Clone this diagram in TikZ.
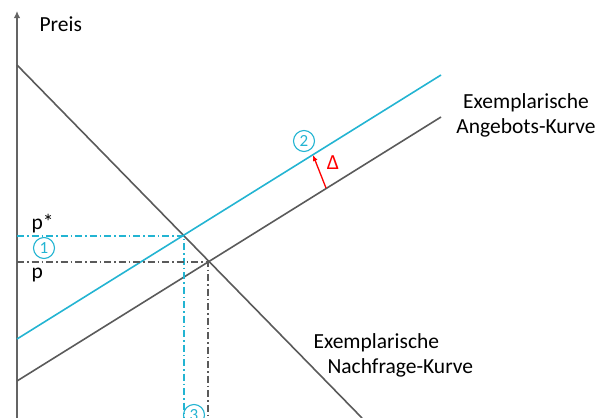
\documentclass[tikz,border=0pt]{standalone}
\usepackage{fontspec}
\setmainfont{Carlito}
\usetikzlibrary{arrows.meta}
\definecolor{cyanblue}{RGB}{35,180,210}
\definecolor{curvegray}{RGB}{90,90,90}
\definecolor{axisgray}{RGB}{100,100,100}

\begin{document}
\begin{tikzpicture}[x=1pt,y=-1pt,font=\fontsize{21.5}{25}\selectfont,
  curve/.style={line width=1.6pt},
  guide/.style={line width=1.3pt,dash pattern=on 7pt off 3pt on 1.5pt off 3pt},
  circnum/.style={circle,draw=cyanblue,text=cyanblue,line width=1.1pt,inner sep=0pt,minimum size=21pt,font=\fontsize{17}{17}\selectfont}]
  \useasboundingbox (0,0) rectangle (595,418);
  \clip (0,0) rectangle (595,418);
  % axis
  \coordinate (A0) at (17,420);
  \coordinate (A1) at (17,11);
  \draw[draw=axisgray,line width=2.6pt,-{Latex[length=7pt,width=6.5pt]}] (A0) -- (A1);
  \node[anchor=base west] (preis) at (36,31) {Preis};
  % curves
  \coordinate (D1) at (17,65);
  \coordinate (D2) at (362,418);
  \coordinate (S1) at (17,381);
  \coordinate (S2) at (441,117);
  \coordinate (T1) at (17,339);
  \coordinate (T2) at (441,75);
  \coordinate (E) at (208,262);
  \coordinate (Es) at (184,236);
  \draw[curve,draw=curvegray] (D1) -- (D2);
  \draw[curve,draw=curvegray] (S1) -- (S2);
  \draw[curve,draw=cyanblue] (T1) -- (T2);
  % guides
  \draw[guide,draw=cyanblue] (17,236) -- (Es) -- (184,420);
  \draw[guide,draw=curvegray] (17,262) -- (E) -- (208,420);
  % labels
  \node[anchor=base west] (pstar) at (28,229) {p*};
  \node[anchor=base west] (p) at (28,278) {p};
  \node[circnum] (n1) at (44,248) {1};
  \node[circnum] (n2) at (304,141) {2};
  \node[circnum] (n3) at (194,415) {3};
  % shift
  \coordinate (R1) at (326,188);
  \coordinate (R2) at (313,155);
  \draw[draw=red,line width=1.3pt,-{Latex[length=6pt,width=5pt]}] (R1) -- (R2);
  \node[text=red] (delta) at (333,163) {Δ};
  \node[align=center] (angebot) at (526,115) {Exemplarische\\Angebots-Kurve};
  \node[align=left,anchor=north west] (nachfrage) at (310,330) {Exemplarische\\\hspace*{14pt}Nachfrage-Kurve};
\end{tikzpicture}
\end{document}
